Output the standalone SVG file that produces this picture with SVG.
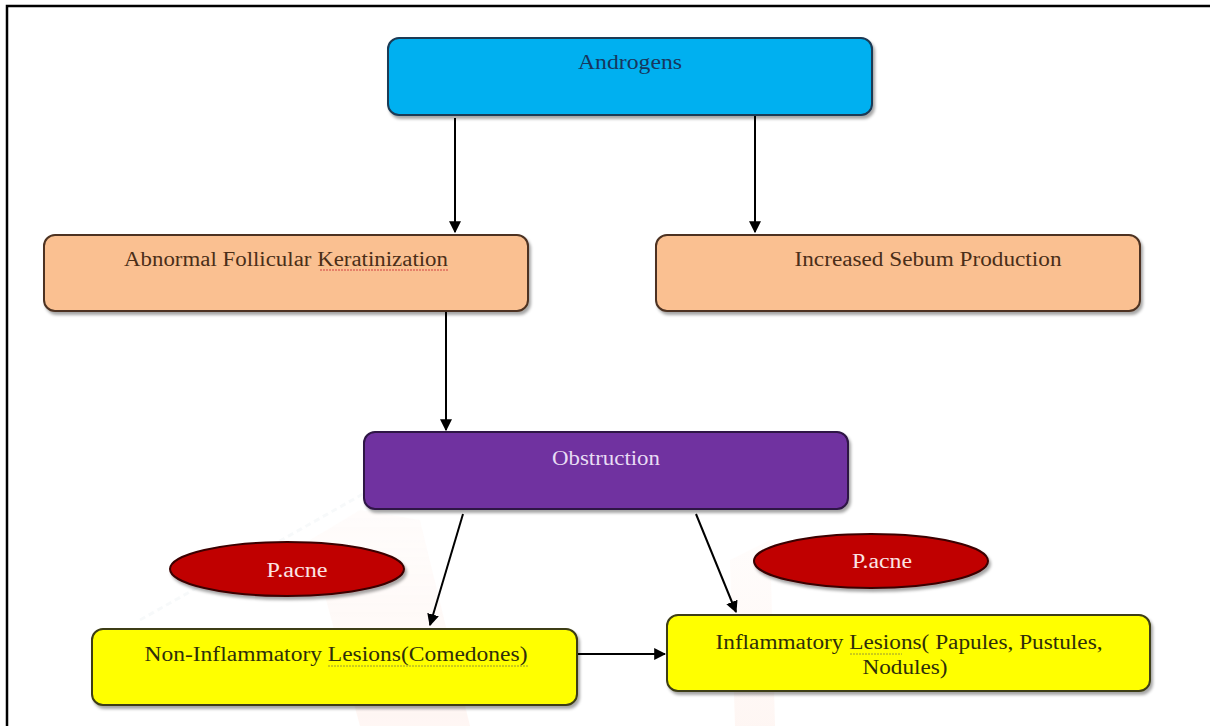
<svg xmlns="http://www.w3.org/2000/svg" width="1210" height="726" viewBox="0 0 1210 726">
<defs>
<filter id="sh" x="-5%" y="-10%" width="112%" height="130%">
<feDropShadow dx="2" dy="3" stdDeviation="1.5" flood-color="#000" flood-opacity="0.35"/>
</filter>
<marker id="ah" viewBox="0 0 10 10" refX="9" refY="5" markerWidth="6" markerHeight="6" orient="auto" markerUnits="strokeWidth">
<path d="M0,0 L10,5 L0,10 z" fill="#000"/>
</marker>
<linearGradient id="wm" x1="0" y1="0" x2="0" y2="1">
<stop offset="0" stop-color="#fef3ee" stop-opacity="0.5"/>
<stop offset="1" stop-color="#fde3da" stop-opacity="0.7"/>
</linearGradient>
</defs>
<style>
.t{font-family:"Liberation Serif","Times New Roman",serif;font-size:20px;text-anchor:middle}
.box{stroke-width:2;filter:url(#sh)}
.con{stroke:#000;stroke-width:2;fill:none;marker-end:url(#ah)}
</style>
<rect x="0" y="0" width="1210" height="726" fill="#fff"/>
<g id="watermark" opacity="0.45">
<polygon points="310,540 360,510 420,520 470,726 360,726" fill="url(#wm)"/>
<polygon points="730,560 770,540 775,726 735,726" fill="url(#wm)"/>
<line x1="140" y1="620" x2="370" y2="490" stroke="#eef3f5" stroke-width="3" stroke-dasharray="6 4"/>
</g>
<path d="M7,726 L7,6 L1210,6" fill="none" stroke="#000" stroke-width="2.5"/>
<g id="connectors">
<line class="con" x1="455" y1="118" x2="455" y2="232"/>
<line class="con" x1="755" y1="116" x2="755" y2="232"/>
<line class="con" x1="446" y1="312" x2="446" y2="430"/>
<line class="con" x1="463" y1="514" x2="430" y2="625"/>
<line class="con" x1="696" y1="514" x2="736" y2="612"/>
<line class="con" x1="577" y1="654" x2="665" y2="654"/>
</g>
<g id="androgens">
<rect class="box" x="388" y="38" width="484" height="77" rx="11" fill="#00b0f0" stroke="#1b3a55"/>
<text class="t" x="630" y="69" fill="#17375e" textLength="104" lengthAdjust="spacingAndGlyphs">Androgens</text>
</g>
<g id="keratinization">
<rect class="box" x="44" y="235" width="484" height="76" rx="11" fill="#fac091" stroke="#4d3322"/>
<text class="t" x="286" y="266" fill="#4a2e18" textLength="324" lengthAdjust="spacingAndGlyphs">Abnormal Follicular Keratinization</text>
<line x1="320" y1="270" x2="448" y2="270" stroke="#d04040" stroke-width="1" stroke-dasharray="2 1"/>
</g>
<g id="sebum">
<rect class="box" x="656" y="235" width="484" height="76" rx="11" fill="#fac091" stroke="#4d3322"/>
<text class="t" x="928" y="266" fill="#4a2e18" textLength="267" lengthAdjust="spacingAndGlyphs">Increased Sebum Production</text>
</g>
<g id="obstruction">
<rect class="box" x="364" y="432" width="484" height="77" rx="11" fill="#7030a0" stroke="#2e1645"/>
<text class="t" x="606" y="465" fill="#e8dcf4" textLength="108" lengthAdjust="spacingAndGlyphs">Obstruction</text>
</g>
<g id="pacne-left">
<ellipse cx="287" cy="569" rx="117" ry="27" fill="#c00000" stroke="#3a0000" stroke-width="2" filter="url(#sh)"/>
<text class="t" x="297" y="577" fill="#fbe4e4" textLength="61" lengthAdjust="spacingAndGlyphs">P.acne</text>
</g>
<g id="pacne-right">
<ellipse cx="871" cy="561" rx="117" ry="27" fill="#c00000" stroke="#3a0000" stroke-width="2" filter="url(#sh)"/>
<text class="t" x="882" y="568" fill="#fbe4e4" textLength="60" lengthAdjust="spacingAndGlyphs">P.acne</text>
</g>
<g id="non-inflammatory">
<rect class="box" x="92" y="629" width="485" height="76" rx="11" fill="#ffff00" stroke="#3d3d14"/>
<text class="t" x="336" y="661" fill="#2e2e0a" textLength="383" lengthAdjust="spacingAndGlyphs">Non-Inflammatory Lesions(Comedones)</text>
<line x1="328" y1="666" x2="528" y2="666" stroke="#9a9a30" stroke-width="1" stroke-dasharray="2 1"/>
</g>
<g id="inflammatory">
<rect class="box" x="667" y="615" width="483" height="76" rx="11" fill="#ffff00" stroke="#3d3d14"/>
<text class="t" x="909" y="649" fill="#2e2e0a" textLength="387" lengthAdjust="spacingAndGlyphs">Inflammatory Lesions( Papules, Pustules,</text>
<text class="t" x="905" y="674" fill="#2e2e0a" textLength="85" lengthAdjust="spacingAndGlyphs">Nodules)</text>
<line x1="850" y1="654" x2="902" y2="654" stroke="#9a9a30" stroke-width="1" stroke-dasharray="2 1"/>
</g>
</svg>
